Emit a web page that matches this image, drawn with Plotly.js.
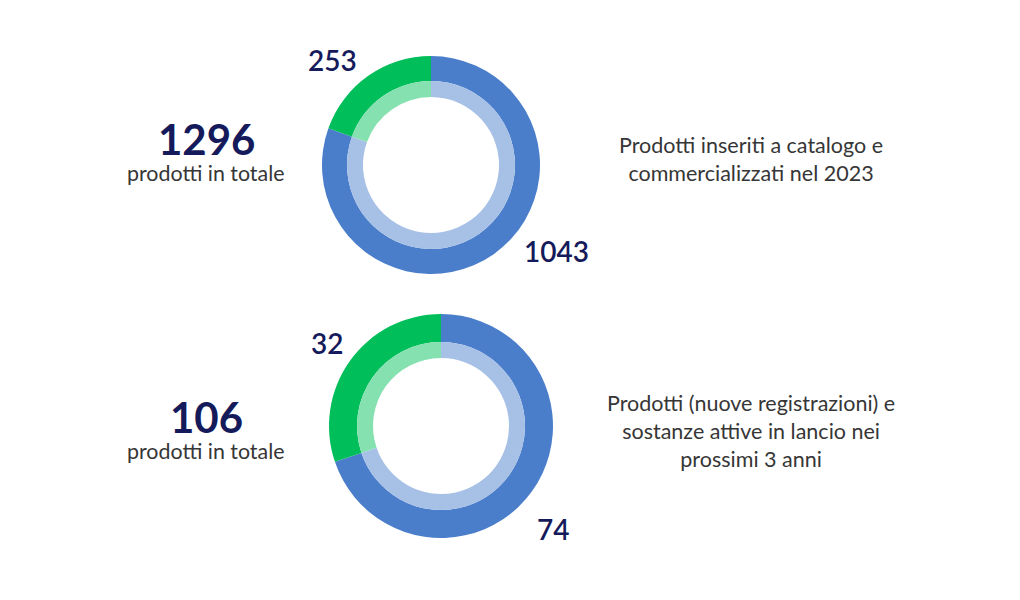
<!DOCTYPE html>
<html>
<head>
<meta charset="utf-8">
<script src="https://cdn.plot.ly/plotly-3.0.1.min.js"></script>
<style>html,body{margin:0;padding:0;background:#fff}#chart{width:1020px;height:600px}</style>
</head>
<body>
<div id="chart"></div>
<script>
// Data
const categories = ["Esistenti", "Nuovi"];
const valuesTop = [1043, 253];
const valuesBottom = [74, 32];
const totals = [1296, 106];
const totalLabel = "prodotti in totale";
const descriptions = [
  "Prodotti inseriti a catalogo e<br>commercializzati nel 2023",
  "Prodotti (nuove registrazioni) e<br>sostanze attive in lancio nei<br>prossimi 3 anni"
];

const W = 1020, H = 600;
const outerColors = ["#4A7ECB", "#00BE5A"];
const innerColors = ["#A7C0E6", "#86E1B1"];
const navy = "#151A5A";
const grey = "#363636";
const font = "Lato, 'Open Sans', sans-serif";

function dom(cx, cy, r) {
  return { x: [(cx - r) / W, (cx + r) / W], y: [1 - (cy + r) / H, 1 - (cy - r) / H] };
}
function ring(values, colors, cx, cy, rOut, rIn) {
  return {
    type: "pie", labels: categories, values: values, sort: false,
    direction: "clockwise", rotation: 0, hole: rIn / rOut,
    domain: dom(cx, cy, rOut), textinfo: "none", hoverinfo: "label+value",
    marker: { colors: colors, line: { width: 0 } }, showlegend: false
  };
}

const donuts = [
  { vals: valuesTop, cx: 431, cy: 165, R: 109, r: 84, h: 68 },
  { vals: valuesBottom, cx: 441, cy: 426, R: 112, r: 84, h: 68 }
];
const traces = [];
donuts.forEach(d => {
  traces.push(ring(d.vals, outerColors, d.cx, d.cy, d.R, d.r));
  traces.push(ring(d.vals, innerColors, d.cx, d.cy, d.r, d.h));
});

function ann(text, px, py, size, color, weight, opts) {
  return Object.assign({
    text: text, x: px / W, y: 1 - py / H, xref: "paper", yref: "paper",
    showarrow: false, xanchor: "center", yanchor: "middle",
    font: { family: font, size: size, color: color, weight: weight }
  }, opts || {});
}

const annotations = [
  ann(String(valuesTop[1]), 332, 60, 28, navy, 600),
  ann(String(valuesTop[0]), 556, 251, 28, navy, 600),
  ann(String(valuesBottom[1]), 327, 343, 28, navy, 600),
  ann(String(valuesBottom[0]), 553, 529, 28, navy, 600),
  ann(String(totals[0]), 206, 139, 42, navy, 700),
  ann(totalLabel, 206, 173, 21.4, grey, 400),
  ann(String(totals[1]), 206, 417, 42, navy, 700),
  ann(totalLabel, 206, 451, 21.4, grey, 400),
  ann(descriptions[0], 751, 159, 21.5, grey, 400),
  ann(descriptions[1], 751, 431, 21.5, grey, 400)
];

Plotly.newPlot("chart", traces, {
  width: W, height: H, margin: { l: 0, r: 0, t: 0, b: 0 },
  paper_bgcolor: "#fff", plot_bgcolor: "#fff", annotations: annotations,
  showlegend: false
}, { displayModeBar: false, staticPlot: true });
</script>
</body>
</html>
